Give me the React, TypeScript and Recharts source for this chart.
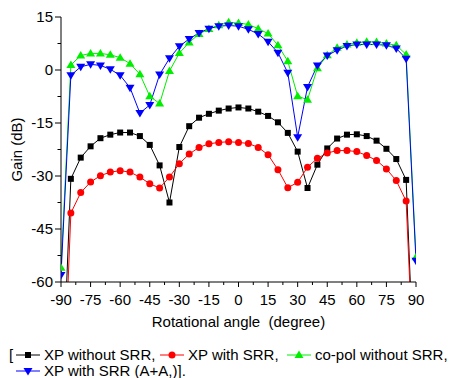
import React from "react";
import { LineChart, Line, XAxis, YAxis } from "recharts";

const angles = [
  -90, -85, -80, -75, -70, -65, -60, -55, -50, -45, -40, -35, -30, -25, -20, -15, -10, -5,
  0, 5, 10, 15, 20, 25, 30, 35, 40, 45, 50, 55, 60, 65, 70, 75, 80, 85, 90,
];

// XP without SRR (black squares)
const xpNoSrr = [
  -100, -30.8, -24.8, -21.6, -19.3, -18.3, -17.7, -17.7, -18.7, -21.2, -27, -37.5, -21.8, -15.9,
  -13.5, -12.4, -11.5, -10.9, -10.6, -10.9, -11.8, -13, -14.8, -17.8, -23.1, -33.4, -26.8, -22.2,
  -19.4, -18.3, -18.2, -18.7, -20, -22.3, -25.2, -31.1, -100,
];

// XP with SRR (red circles)
const xpSrr = [
  -110, -40.5, -34.7, -31.7, -29.9, -28.9, -28.5, -28.9, -30.3, -32.2, -33.4, -30.3, -26.5, -23.8,
  -21.9, -20.9, -20.5, -20.3, -20.5, -20.8, -21.9, -24, -28.2, -33.3, -31.8, -27.5, -25, -23.5,
  -22.8, -22.8, -23.1, -24.2, -25.6, -28, -31.3, -37.1, -100,
];

// co-pol without SRR (green up triangles)
const coPol = [
  -56, 1.4, 4.1, 4.7, 4.7, 4.3, 3.5, 1.8, -1.2, -7.4, -9.5, -0.3, 4.8, 7.8, 10.2, 11.6, 12.7, 13.5,
  13.3, 12.9, 11.7, 10.3, 7, 2.5, -7.4, -8.4, 0.5, 4.2, 6.3, 7.2, 7.7, 8, 7.9, 7.5, 7, 4.4, -53,
];

// XP with SRR (A+A) (blue down triangles)
const xpSrrAA = [
  -58, -1.5, 0.9, 1.6, 1.3, 0.2, -1.5, -5, -12.2, -9.9, -1.3, 3.3, 6.7, 8.8, 10.5, 11.7, 12.4, 12.6,
  12.4, 11.5, 10.2, 8, 4.9, -0.8, -19, -4.8, 1.3, 4.1, 5.6, 6.8, 7.2, 7.2, 7.2, 7, 6.1, 3.2, -54,
];

const xTicks = [-90, -82.5, -75, -67.5, -60, -52.5, -45, -37.5, -30, -22.5, -15, -7.5, 0, 7.5, 15, 22.5, 30, 37.5, 45, 52.5, 60, 67.5, 75, 82.5, 90];
const yTicks = [-60, -52.5, -45, -37.5, -30, -22.5, -15, -7.5, 0, 7.5, 15];

const data = angles.map((a, i) => ({
  angle: a,
  black: xpNoSrr[i],
  red: xpSrr[i],
  green: coPol[i],
  blue: xpSrrAA[i],
}));

const FONT = "'Liberation Sans', Arial, Helvetica, sans-serif";

const XTick = (props: any) => {
  const { x, y, payload } = props;
  const v = payload.value;
  const major = v % 15 === 0;
  return (
    <g>
      <line x1={x} x2={x} y1={y} y2={y + (major ? 5 : 3)} stroke="#000" />
      {major && (
        <text x={x} y={y + 23} textAnchor="middle" fontSize={15} fontFamily={FONT} fill="#000">
          {v}
        </text>
      )}
    </g>
  );
};

const YTick = (props: any) => {
  const { x, y, payload } = props;
  const v = payload.value;
  const major = v % 15 === 0;
  return (
    <g>
      <line x1={x - (major ? 6 : 3.5)} x2={x} y1={y} y2={y} stroke="#000" />
      {major && (
        <text x={x - 8} y={y + 5} textAnchor="end" fontSize={15} fontFamily={FONT} fill="#000">
          {v}
        </text>
      )}
    </g>
  );
};

const inRange = (p: any) => Number.isFinite(p.cx) && Number.isFinite(p.cy) && p.value >= -60;

const SquareDot = (p: any) =>
  inRange(p) ? <rect key={p.index} x={p.cx - 3} y={p.cy - 3} width={6} height={6} fill="#000" /> : <g key={p.index} />;
const CircleDot = (p: any) =>
  inRange(p) ? <circle key={p.index} cx={p.cx} cy={p.cy} r={3.5} fill="#ff0000" /> : <g key={p.index} />;
const UpDot = (p: any) =>
  inRange(p) ? (
    <path key={p.index} d={`M${p.cx},${p.cy - 4.5}L${p.cx + 4.5},${p.cy + 3}L${p.cx - 4.5},${p.cy + 3}Z`} fill="#00ee00" />
  ) : (
    <g key={p.index} />
  );
const DownDot = (p: any) =>
  inRange(p) ? (
    <path key={p.index} d={`M${p.cx},${p.cy + 4.5}L${p.cx + 4.5},${p.cy - 3}L${p.cx - 4.5},${p.cy - 3}Z`} fill="#0000ff" />
  ) : (
    <g key={p.index} />
  );

const Icon = ({ color, kind }: { color: string; kind: string }) => (
  <svg width={24} height={12} style={{ display: "block" }}>
    <line x1={0} x2={24} y1={6} y2={6} stroke={color} />
    {kind === "square" && <rect x={9} y={3} width={6} height={6} fill={color} />}
    {kind === "circle" && <circle cx={12} cy={6} r={3.5} fill={color} />}
    {kind === "up" && <path d="M12,1.5L16.5,9L7.5,9Z" fill={color} />}
    {kind === "down" && <path d="M12,10.5L16.5,3L7.5,3Z" fill={color} />}
  </svg>
);

const txt: React.CSSProperties = {
  position: "absolute",
  fontSize: 15,
  lineHeight: "16px",
  fontFamily: FONT,
  whiteSpace: "nowrap",
  color: "#000",
};

export default function App() {
  return (
    <div style={{ position: "absolute", left: 0, top: 0, width: 451, height: 378, background: "#fff" }}>
      <LineChart width={451} height={335} data={data} margin={{ top: 17, right: 35, bottom: 0, left: 0 }}>
        <XAxis
          dataKey="angle"
          type="number"
          domain={[-90, 90]}
          ticks={xTicks}
          interval={0}
          tick={<XTick />}
          tickLine={false}
          tickSize={0}
          tickMargin={0}
          height={53}
          axisLine={{ stroke: "#000" }}
          allowDataOverflow
          label={{
            value: "Rotational angle\u00A0 (degree)",
            position: "insideBottom",
            offset: 8,
            fontSize: 15,
            fontFamily: FONT,
            fill: "#000",
          }}
        />
        <YAxis
          type="number"
          domain={[-60, 15]}
          ticks={yTicks}
          interval={0}
          tick={<YTick />}
          tickLine={false}
          tickSize={0}
          tickMargin={0}
          width={61}
          axisLine={{ stroke: "#000" }}
          allowDataOverflow
          label={{
            value: "Gain (dB)",
            angle: -90,
            position: "insideLeft",
            offset: 17,
            fontSize: 15,
            fontFamily: FONT,
            fill: "#000",
            style: { textAnchor: "middle" },
          }}
        />
        <Line dataKey="black" stroke="#000" strokeWidth={1} dot={SquareDot} isAnimationActive={false} />
        <Line dataKey="red" stroke="#ff0000" strokeWidth={1} dot={CircleDot} isAnimationActive={false} />
        <Line dataKey="green" stroke="#00ee00" strokeWidth={1} dot={UpDot} isAnimationActive={false} />
        <Line dataKey="blue" stroke="#0000ff" strokeWidth={1} dot={DownDot} isAnimationActive={false} />
      </LineChart>

      <span style={{ ...txt, left: 9, top: 347 }}>[</span>
      <div style={{ position: "absolute", left: 16, top: 349 }}><Icon color="#000" kind="square" /></div>
      <span style={{ ...txt, left: 44, top: 347 }}>XP without SRR,</span>
      <div style={{ position: "absolute", left: 160, top: 349 }}><Icon color="#ff0000" kind="circle" /></div>
      <span style={{ ...txt, left: 188, top: 347 }}>XP with SRR,</span>
      <div style={{ position: "absolute", left: 287, top: 349 }}><Icon color="#00ee00" kind="up" /></div>
      <span style={{ ...txt, left: 315, top: 347 }}>co-pol without SRR,</span>
      <div style={{ position: "absolute", left: 16, top: 365 }}><Icon color="#0000ff" kind="down" /></div>
      <span style={{ ...txt, left: 44, top: 363 }}>XP with SRR (A+A,)].</span>
    </div>
  );
}
